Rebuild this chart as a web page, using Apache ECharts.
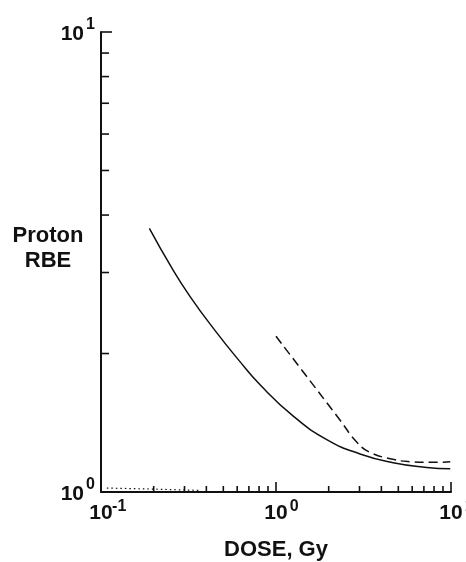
<!DOCTYPE html>
<html>
<head>
<meta charset="utf-8">
<script src="https://cdn.jsdelivr.net/npm/echarts@6/dist/echarts.min.js"></script>
<style>
  html, body { margin: 0; padding: 0; background: #fff; }
  #chart { width: 466px; height: 562px; }
</style>
</head>
<body>
<div id="chart"></div>
<script>
// Proton RBE versus dose (log-log)
const solidDose = [0.189, 0.25, 0.323, 0.45, 0.609, 0.811, 1.26, 1.95, 3.02, 4.67, 7.26, 9.9];
const solidRBE  = [3.74, 3.10, 2.66, 2.24, 1.94, 1.71, 1.46, 1.30, 1.21, 1.158, 1.131, 1.123];

const dashedDose = [1.0, 2.32, 2.89, 3.44, 4.67, 5.83, 7.59, 9.9];
const dashedRBE  = [2.18, 1.434, 1.285, 1.22, 1.178, 1.164, 1.160, 1.163];

const dottedDose = [0.108, 0.19, 0.37];
const dottedRBE  = [1.02, 1.015, 1.008];

// decade labels (exponents of 10)
const xExponents = [-1, 0, 1];
const yExponents = [0, 1];

// tick positions
const xMajorTicks = [1, 10];
const xMinorTicks = [0.2, 0.3, 0.4, 0.5, 0.6, 0.7, 0.8, 0.9, 2, 3, 4, 5, 6, 7, 8, 9];
const yMajorTicks = [10];
const yMinorTicks = [2, 3, 4, 5, 6, 7, 8, 9];

const FONT = '"Liberation Sans", Arial, Helvetica, sans-serif';
const INK = '#111';

const pairs = (xs, ys) => xs.map((x, i) => [x, ys[i]]);

function supLabel(value, centerOnBase) {
  const e = Math.round(Math.log10(value));
  return (centerOnBase ? '{sp|}' : '') + '{b|10}{s|' + e + '}';
}

// "10" with a raised exponent
const xRich = {
  b: { fontFamily: FONT, fontWeight: 'bold', fontSize: 21, color: INK, lineHeight: 29, verticalAlign: 'bottom' },
  s: { fontFamily: FONT, fontWeight: 'bold', fontSize: 16, color: INK, lineHeight: 18, verticalAlign: 'top',
       width: 13, align: 'left', padding: [4, 0, 0, 0] },
  sp: { width: 13 }
};
const yRich = {
  b: { fontFamily: FONT, fontWeight: 'bold', fontSize: 21, color: INK, lineHeight: 30, verticalAlign: 'bottom' },
  s: { fontFamily: FONT, fontWeight: 'bold', fontSize: 16, color: INK, lineHeight: 18, verticalAlign: 'top',
       width: 13, align: 'left', padding: [2, 0, 0, 0] }
};

const xTickData = xMajorTicks.map(v => [v, 1, 10]).concat(xMinorTicks.map(v => [v, 1, 6]));
const yTickData = yMajorTicks.map(v => [0.1, v, 11]).concat(yMinorTicks.map(v => [0.1, v, 8]));

const chart = echarts.init(document.getElementById('chart'));
chart.setOption({
  animation: false,
  backgroundColor: '#fff',
  grid: { left: 101, top: 32, width: 350, height: 460, containLabel: false, outerBoundsMode: 'none' },
  xAxis: {
    type: 'log', logBase: 10, min: 0.1, max: 10,
    name: 'DOSE, Gy', nameLocation: 'middle', nameGap: 47,
    nameTextStyle: { fontFamily: FONT, fontWeight: 'bold', fontSize: 22, color: INK },
    axisLine: { show: true, lineStyle: { color: INK, width: 2 } },
    axisTick: { show: false },
    splitLine: { show: false },
    minorTick: { show: false },
    axisLabel: {
      show: true, margin: 3,
      formatter: v => xExponents.includes(Math.round(Math.log10(v))) ? supLabel(v, true) : '',
      rich: xRich
    }
  },
  yAxis: {
    type: 'log', logBase: 10, min: 1, max: 10,
    axisLine: { show: true, lineStyle: { color: INK, width: 2 } },
    axisTick: { show: false },
    splitLine: { show: false },
    minorTick: { show: false },
    axisLabel: {
      show: true, margin: 4, padding: [0, 0, 4, 0],
      formatter: v => yExponents.includes(Math.round(Math.log10(v))) ? supLabel(v, false) : '',
      rich: yRich
    }
  },
  graphic: [{
    type: 'text', x: 48, y: 223,
    style: {
      text: 'Proton\nRBE', align: 'center', verticalAlign: 'top',
      font: 'bold 22px ' + FONT, fill: INK, lineHeight: 25
    }
  }],
  series: [
    {
      type: 'custom', coordinateSystem: 'cartesian2d', clip: false, silent: true,
      data: xTickData,
      renderItem: (params, api) => {
        const p = api.coord([api.value(0), api.value(1)]);
        return { type: 'line', shape: { x1: p[0], y1: p[1], x2: p[0], y2: p[1] - api.value(2) },
                 style: { stroke: INK, lineWidth: 1.6 } };
      }
    },
    {
      type: 'custom', coordinateSystem: 'cartesian2d', clip: false, silent: true,
      data: yTickData,
      renderItem: (params, api) => {
        const p = api.coord([api.value(0), api.value(1)]);
        return { type: 'line', shape: { x1: p[0], y1: p[1], x2: p[0] + api.value(2), y2: p[1] },
                 style: { stroke: INK, lineWidth: 1.6 } };
      }
    },
    {
      type: 'line', data: pairs(solidDose, solidRBE), showSymbol: false, smooth: 0.5,
      lineStyle: { color: INK, width: 1.5, type: 'solid' }
    },
    {
      type: 'line', data: pairs(dashedDose, dashedRBE), showSymbol: false, smooth: 0.5,
      lineStyle: { color: INK, width: 1.5, type: [9, 5] }
    },
    {
      type: 'line', data: pairs(dottedDose, dottedRBE), showSymbol: false,
      lineStyle: { color: INK, width: 1.2, type: [1.5, 3] }
    }
  ]
});
</script>
</body>
</html>
